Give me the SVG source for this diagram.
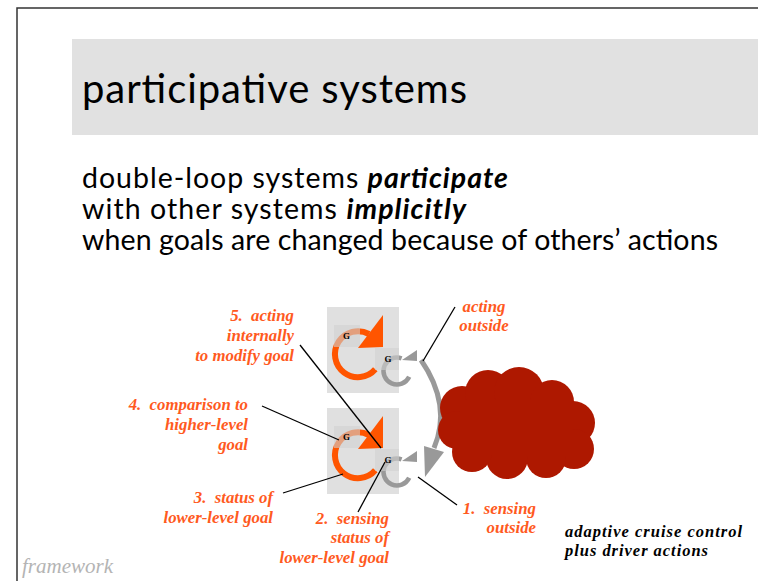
<svg xmlns="http://www.w3.org/2000/svg" width="758" height="581" viewBox="0 0 758 581">
<style>
.title{font-family:Lato,"Open Sans",sans-serif;font-size:40px;fill:#000}
.body{font-family:Lato,"Open Sans",sans-serif;font-size:28.5px;fill:#000}
.bi{font-weight:bold;font-style:italic}
.lbl{font-family:"Liberation Serif","Times New Roman",serif;font-weight:bold;font-style:italic;font-size:16.8px;fill:#FF5A1E;white-space:pre}
.note{font-family:"Liberation Serif","Times New Roman",serif;font-weight:bold;font-style:italic;font-size:16.5px;fill:#000}
.fw{font-family:"Liberation Serif","Times New Roman",serif;font-style:italic;font-size:21px;fill:#B4B4B4}
.g{font-family:"Liberation Serif","Times New Roman",serif;font-weight:bold;font-size:9px;fill:#000}
.lead{stroke:#000;stroke-width:1.3;fill:none}
.big{fill:#E0E0E0}
.gbox{fill:#D0D0D0;fill-opacity:0.6}
.oring{fill:none;stroke:#FF5500;stroke-width:6}
.gring{fill:none;stroke:#999;stroke-width:4.5}
</style>
<defs>
<g id="loop">
<rect class="big" x="327" y="307" width="72" height="86"/>
<path class="oring" d="M375.3,369.3 A23,23 0 1 1 369,334"/>
<rect class="gbox" x="334" y="325" width="26" height="22"/>
<polygon points="383,315 358,348 383,347" fill="#FF5500"/>
<path class="gring" d="M409.2,376.7 A13.5,13.5 0 1 1 401.6,358.3"/>
<polygon points="417,350 402,360 417,361" fill="#999"/>
<rect class="gbox" x="375" y="348" width="24" height="22"/>
<text class="g" x="346.5" y="339" text-anchor="middle">G</text>
<text class="g" x="388" y="362" text-anchor="middle">G</text>
</g>
</defs>
<rect width="758" height="581" fill="#fff"/>
<path d="M17,581 V8 H758" fill="none" stroke="#333" stroke-width="1.5"/>
<rect x="72" y="39" width="686" height="96" fill="#E1E1E1"/>
<text class="title" x="82" y="103" textLength="385">participative systems</text>
<text class="body" x="82" y="188" textLength="426">double-loop systems <tspan class="bi">participate</tspan></text>
<text class="body" x="82" y="219" textLength="384">with other systems <tspan class="bi">implicitly</tspan></text>
<text class="body" x="82" y="250" textLength="636">when goals are changed because of others’ actions</text>

<g id="upper-loop"><use href="#loop"/></g>
<g id="lower-loop"><use href="#loop" transform="translate(0,101)"/></g>

<g id="connectors">
<path d="M421,360 Q452,405 434,448" fill="none" stroke="#999" stroke-width="5"/>
<polygon points="424,446 444,452 425,477" fill="#999"/>
<line class="lead" x1="300" y1="345" x2="381" y2="448"/>
<line class="lead" x1="455" y1="307" x2="423" y2="361"/>
<line class="lead" x1="262" y1="406" x2="339" y2="440"/>
<line class="lead" x1="283" y1="493" x2="343" y2="474"/>
<line class="lead" x1="358" y1="512" x2="385" y2="462"/>
<line class="lead" x1="418" y1="477" x2="457" y2="505"/>
</g>

<g id="cloud" fill="#AE1800">
<circle cx="462" cy="408" r="22"/>
<circle cx="488" cy="393" r="23"/>
<circle cx="519" cy="392" r="25"/>
<circle cx="552" cy="402" r="22"/>
<circle cx="573" cy="423" r="22"/>
<circle cx="574" cy="449" r="20"/>
<circle cx="546" cy="458" r="20"/>
<circle cx="507" cy="458" r="21"/>
<circle cx="472" cy="452" r="20"/>
<circle cx="457" cy="430" r="19"/>
<rect x="460" y="400" width="112" height="55"/>
</g>

<g id="labels">
<text class="lbl" text-anchor="end" x="294" y="321" xml:space="preserve">5.  acting</text>
<text class="lbl" text-anchor="end" x="294" y="341">internally</text>
<text class="lbl" text-anchor="end" x="294" y="361">to modify goal</text>
<text class="lbl" text-anchor="middle" x="484" y="312">acting</text>
<text class="lbl" text-anchor="middle" x="484" y="331">outside</text>
<text class="lbl" text-anchor="end" x="248" y="410" xml:space="preserve">4.  comparison to</text>
<text class="lbl" text-anchor="end" x="248" y="430">higher-level</text>
<text class="lbl" text-anchor="end" x="248" y="450">goal</text>
<text class="lbl" text-anchor="end" x="273" y="503" xml:space="preserve">3.  status of</text>
<text class="lbl" text-anchor="end" x="273" y="523">lower-level goal</text>
<text class="lbl" text-anchor="end" x="389" y="524" xml:space="preserve">2.  sensing</text>
<text class="lbl" text-anchor="end" x="389" y="543">status of</text>
<text class="lbl" text-anchor="end" x="389" y="563">lower-level goal</text>
<text class="lbl" text-anchor="end" x="536" y="514" xml:space="preserve">1.  sensing</text>
<text class="lbl" text-anchor="end" x="536" y="533">outside</text>
<text class="note" x="565" y="537" textLength="177">adaptive cruise control</text>
<text class="note" x="565" y="556" textLength="143">plus driver actions</text>
<text class="fw" x="22" y="573">framework</text>
</g>
</svg>
